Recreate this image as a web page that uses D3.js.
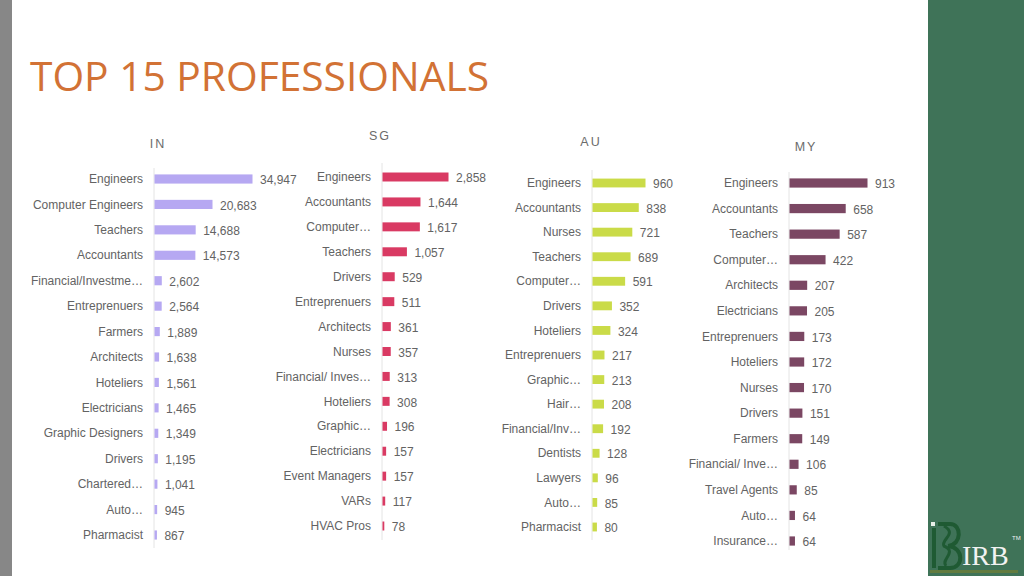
<!DOCTYPE html>
<html>
<head>
<meta charset="utf-8">
<script src="https://cdn.jsdelivr.net/npm/d3@7"></script>
<style>
  html, body { margin: 0; padding: 0; background: #fff; }
  svg { display: block; }
</style>
</head>
<body>
<svg id="chart" width="1024" height="576"></svg>
<script>
// ---------- DATA ----------
const inCats = ["Engineers","Computer Engineers","Teachers","Accountants","Financial/Investme…","Entreprenuers","Farmers","Architects","Hoteliers","Electricians","Graphic Designers","Drivers","Chartered…","Auto…","Pharmacist"];
const inVals = [34947,20683,14688,14573,2602,2564,1889,1638,1561,1465,1349,1195,1041,945,867];

const sgCats = ["Engineers","Accountants","Computer…","Teachers","Drivers","Entreprenuers","Architects","Nurses","Financial/ Inves…","Hoteliers","Graphic…","Electricians","Event Managers","VARs","HVAC Pros"];
const sgVals = [2858,1644,1617,1057,529,511,361,357,313,308,196,157,157,117,78];

const auCats = ["Engineers","Accountants","Nurses","Teachers","Computer…","Drivers","Hoteliers","Entreprenuers","Graphic…","Hair…","Financial/Inv…","Dentists","Lawyers","Auto…","Pharmacist"];
const auVals = [960,838,721,689,591,352,324,217,213,208,192,128,96,85,80];

const myCats = ["Engineers","Accountants","Teachers","Computer…","Architects","Electricians","Entreprenuers","Hoteliers","Nurses","Drivers","Farmers","Financial/ Inve…","Travel Agents","Auto…","Insurance…"];
const myVals = [913,658,587,422,207,205,173,172,170,151,149,106,85,64,64];

const panelTitles = ["IN","SG","AU","MY"];
const chartTitle = "TOP 15 PROFESSIONALS";

// ---------- LAYOUT ----------
const svg = d3.select("#chart");
const textColor = "#636363";

// side decorations
svg.append("rect").attr("x",0).attr("y",0).attr("width",12).attr("height",576).attr("fill","#878787");
svg.append("rect").attr("x",928).attr("y",0).attr("width",96).attr("height",576).attr("fill","#3f7358");

// title
const t = svg.append("text")
  .attr("x",30).attr("y",91)
  .attr("font-family","'Open Sans', 'Noto Sans', sans-serif")
  .attr("font-size",40)
  .attr("fill","#d27235")
  .text(chartTitle);
t.attr("textLength",459).attr("lengthAdjust","spacingAndGlyphs");

const panels = [
  {cats: inCats, vals: inVals, color:"#b6a8f2", axisX:154, maxPx:98, y0:179, y1:535, lineTop:168, lineBot:548, tx:158, ty:148, title: panelTitles[0]},
  {cats: sgCats, vals: sgVals, color:"#d93a63", axisX:382, maxPx:66, y0:177, y1:526, lineTop:163, lineBot:540, tx:380, ty:140, title: panelTitles[1]},
  {cats: auCats, vals: auVals, color:"#cadb48", axisX:592, maxPx:53, y0:183, y1:527, lineTop:170, lineBot:540, tx:591, ty:146, title: panelTitles[2]},
  {cats: myCats, vals: myVals, color:"#7b4763", axisX:789, maxPx:78, y0:183, y1:541, lineTop:172, lineBot:550, tx:806, ty:151, title: panelTitles[3]}
];

const fmt = d3.format(",");

panels.forEach(p => {
  const n = p.cats.length;
  const step = (p.y1 - p.y0) / (n - 1);
  const y = d3.scaleBand()
    .domain(p.cats.map((c,i) => i))
    .range([p.y0 - step/2, p.y1 + step/2])
    .paddingInner(0.64).paddingOuter(0.32);
  const x = d3.scaleLinear().domain([0, d3.max(p.vals)]).range([p.axisX, p.axisX + p.maxPx]);

  const g = svg.append("g");

  // panel title
  g.append("text")
    .attr("x",p.tx).attr("y",p.ty)
    .attr("text-anchor","middle")
    .attr("font-family","'Liberation Sans', Arial, sans-serif")
    .attr("font-size",12.5)
    .attr("letter-spacing",2)
    .attr("fill","#6b6b6b")
    .text(p.title);

  // axis line
  g.append("line")
    .attr("x1",p.axisX).attr("x2",p.axisX)
    .attr("y1",p.lineTop).attr("y2",p.lineBot)
    .attr("stroke","#e4e4e4").attr("stroke-width",1);

  const rows = g.selectAll("g.row")
    .data(p.vals.map((v,i) => ({v, c:p.cats[i], i})))
    .join("g").attr("class","row");

  rows.append("rect")
    .attr("x", d => x(0) + 0.5)
    .attr("y", d => y(d.i))
    .attr("width", d => Math.max(1.5, x(d.v) - x(0)))
    .attr("height", y.bandwidth())
    .attr("fill", p.color);

  rows.append("text")
    .attr("x", p.axisX - 11)
    .attr("y", d => y(d.i) + y.bandwidth()/2)
    .attr("dy","0.35em")
    .attr("text-anchor","end")
    .attr("font-family","'Liberation Sans', Arial, sans-serif")
    .attr("font-size",12)
    .attr("fill",textColor)
    .text(d => d.c);

  rows.append("text")
    .attr("x", d => x(d.v) + 8)
    .attr("y", d => y(d.i) + y.bandwidth()/2 + 1)
    .attr("dy","0.35em")
    .attr("font-family","'Liberation Sans', Arial, sans-serif")
    .attr("font-size",12)
    .attr("fill",textColor)
    .text(d => fmt(d.v));
});

// ---------- LOGO ----------
const logo = svg.append("g");
const dk = "#1f5a33";
logo.append("rect").attr("x",931).attr("y",522).attr("width",4).attr("height",4).attr("fill","#e8efe8");
logo.append("rect").attr("x",932).attr("y",528).attr("width",4).attr("height",40).attr("fill",dk);
logo.append("path")
  .attr("d","M938,524 L950,524 C962,524 962,545 948,546 C964,547 964,568 950,568 L938,568")
  .attr("fill","none").attr("stroke",dk).attr("stroke-width",4);
logo.append("path")
  .attr("d","M944,526 C958,534 940,540 944,546 C958,552 940,560 946,566")
  .attr("fill","none").attr("stroke",dk).attr("stroke-width",3);
logo.append("text")
  .attr("x",962).attr("y",565)
  .attr("font-family","'Liberation Serif', 'DejaVu Serif', serif")
  .attr("font-size",28)
  .attr("fill","#f2f2f2")
  .text("IRB");
logo.append("text")
  .attr("x",1012).attr("y",540)
  .attr("font-family","'Liberation Sans', Arial, sans-serif")
  .attr("font-size",6)
  .attr("fill","#f2f2f2")
  .text("TM");
logo.append("rect").attr("x",930).attr("y",570).attr("width",88).attr("height",3).attr("fill","#6b7d3a").attr("opacity",0.8);
</script>
</body>
</html>
